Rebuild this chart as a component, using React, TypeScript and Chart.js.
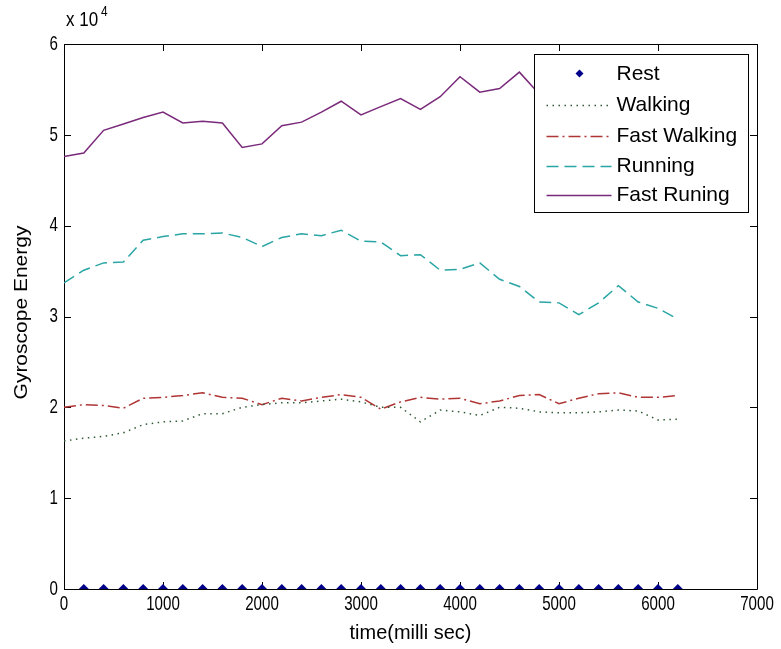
import React, { useEffect, useRef } from "react";
import { Chart, registerables } from "chart.js";

Chart.register(...registerables);

const seriesLabels = ["Rest", "Walking", "Fast Walking", "Running", "Fast Runing"];

const timeMs = [0, 200, 400, 600, 800, 1000, 1200, 1400, 1600, 1800, 2000, 2200, 2400, 2600, 2800, 3000,
  3200, 3400, 3600, 3800, 4000, 4200, 4400, 4600, 4800, 5000, 5200, 5400, 5600, 5800, 6000, 6200];

const restTime = [200, 400, 600, 800, 1000, 1200, 1400, 1600, 1800, 2000, 2200, 2400, 2600, 2800, 3000,
  3200, 3400, 3600, 3800, 4000, 4200, 4400, 4600, 4800, 5000, 5200, 5400, 5600, 5800, 6000, 6200];
const restEnergy = [0, 0, 0, 0, 0, 0, 0, 0, 0, 0, 0, 0, 0, 0, 0, 0, 0, 0, 0, 0, 0, 0, 0, 0, 0, 0, 0, 0, 0, 0, 0];

const walking = [16300, 16600, 16800, 17200, 18100, 18400, 18500, 19300, 19300, 20000, 20300, 20500, 20500, 20700, 20900, 20600,
  20000, 20000, 18400, 19700, 19500, 19100, 20000, 19900, 19500, 19400, 19400, 19500, 19700, 19600, 18600, 18700];

const fastWalking = [20000, 20300, 20200, 19900, 21000, 21100, 21300, 21600, 21100, 21000, 20300, 21000, 20700, 21100, 21400, 21100,
  19800, 20600, 21100, 20900, 21000, 20400, 20700, 21300, 21400, 20400, 21000, 21500, 21600, 21100, 21100, 21300];

const running = [33700, 35100, 35900, 36000, 38400, 38800, 39100, 39100, 39200, 38700, 37700, 38700, 39100, 38900, 39500, 38300,
  38200, 36700, 36800, 35100, 35200, 35900, 34100, 33300, 31600, 31500, 30200, 31500, 33400, 31600, 30900, 29700];

const fastRunning = [47600, 48000, 50500, 51200, 51900, 52500, 51300, 51500, 51300, 48600, 49000, 51000, 51400, 52500, 53700, 52200,
  53100, 54000, 52800, 54200, 56400, 54700, 55100, 56900, 54500, 54900, 55400, 55800, 55500, 56100, 55700, 56300];

const xTicks = [0, 1000, 2000, 3000, 4000, 5000, 6000, 7000];
const yTicks = [0, 10000, 20000, 30000, 40000, 50000, 60000];
const xTickLabels = ["0", "1000", "2000", "3000", "4000", "5000", "6000", "7000"];
const yTickLabels = ["0", "1", "2", "3", "4", "5", "6"];

const pts = (xs: number[], ys: number[]) => xs.map((x, i) => ({ x, y: ys[i] }));

function narrowText(ctx: CanvasRenderingContext2D, text: string, x: number, y: number, align: "left" | "center" | "right", k: number) {
  const w = ctx.measureText(text).width * k;
  let lx = x;
  if (align === "center") lx = x - w / 2;
  if (align === "right") lx = x - w;
  ctx.save();
  ctx.translate(lx, y);
  ctx.scale(k, 1);
  ctx.textAlign = "left";
  ctx.fillText(text, 0, 0);
  ctx.restore();
}

const framePlugin = {
  id: "frame",
  beforeDatasetsDraw(chart: any) {
    const { ctx, chartArea, scales } = chart;
    const { left, right, top, bottom } = chartArea;
    ctx.save();
    ctx.strokeStyle = "#000";
    ctx.lineWidth = 1;
    ctx.beginPath();
    ctx.rect(Math.round(left) + 0.5, Math.round(top) + 0.5, Math.round(right - left), Math.round(bottom - top));
    ctx.stroke();
    const tl = 7;
    ctx.beginPath();
    xTicks.forEach((v) => {
      const px = Math.round(scales.x.getPixelForValue(v)) + 0.5;
      ctx.moveTo(px, bottom);
      ctx.lineTo(px, bottom - tl);
      ctx.moveTo(px, top);
      ctx.lineTo(px, top + tl);
    });
    yTicks.forEach((v) => {
      const py = Math.round(scales.y.getPixelForValue(v)) + 0.5;
      ctx.moveTo(left, py);
      ctx.lineTo(left + tl, py);
      ctx.moveTo(right, py);
      ctx.lineTo(right - tl, py);
    });
    ctx.stroke();
    // tick labels
    ctx.fillStyle = "#000";
    ctx.font = "21px 'Liberation Sans', Arial, sans-serif";
    ctx.textBaseline = "middle";
    xTicks.forEach((v, i) => {
      narrowText(ctx, xTickLabels[i], scales.x.getPixelForValue(v), bottom + 15, "center", 0.72);
    });
    yTicks.forEach((v, i) => {
      narrowText(ctx, yTickLabels[i], left - 6, scales.y.getPixelForValue(v), "right", 0.72);
    });
    ctx.restore();
  },
  afterDatasetsDraw(chart: any) {
    const { ctx, chartArea } = chart;
    const { left, right, top, bottom } = chartArea;
    ctx.save();
    // legend
    const bx = Math.round(right) - 223 + 0.5;
    const by = Math.round(top) + 10 + 0.5;
    const bw = 214;
    const bh = 158;
    ctx.fillStyle = "#fff";
    ctx.fillRect(bx, by, bw, bh);
    ctx.strokeStyle = "#000";
    ctx.lineWidth = 1;
    ctx.setLineDash([]);
    ctx.strokeRect(bx, by, bw, bh);
    const rowY = [19, 50, 81, 111, 140];
    ctx.font = "21px 'Liberation Sans', Arial, sans-serif";
    ctx.textBaseline = "middle";
    ctx.textAlign = "left";
    chart.data.datasets.forEach((ds: any, i: number) => {
      const cy = by + rowY[i];
      if (i === 0) {
        const cx = bx + 45;
        const r = 4;
        ctx.fillStyle = ds.pointBackgroundColor;
        ctx.beginPath();
        ctx.moveTo(cx, cy - r);
        ctx.lineTo(cx + r, cy);
        ctx.lineTo(cx, cy + r);
        ctx.lineTo(cx - r, cy);
        ctx.closePath();
        ctx.fill();
      } else {
        ctx.strokeStyle = ds.borderColor;
        ctx.lineWidth = ds.borderWidth;
        ctx.setLineDash(ds.borderDash || []);
        ctx.beginPath();
        ctx.moveTo(bx + 12, Math.round(cy) + 0.5);
        ctx.lineTo(bx + 77, Math.round(cy) + 0.5);
        ctx.stroke();
        ctx.setLineDash([]);
      }
      ctx.fillStyle = "#000";
      ctx.fillText(ds.label, bx + 82, cy + 1);
    });
    // axis titles
    ctx.fillStyle = "#000";
    ctx.font = "21px 'Liberation Sans', Arial, sans-serif";
    ctx.textBaseline = "middle";
    narrowText(ctx, "time(milli sec)", (left + right) / 2, bottom + 44, "center", 0.95);
    ctx.save();
    ctx.translate(22, (top + bottom) / 2 - 4);
    ctx.rotate(-Math.PI / 2);
    ctx.textAlign = "center";
    ctx.save();
    ctx.scale(1, 0.85);
    ctx.fillText("Gyroscope Energy", 0, 0);
    ctx.restore();
    ctx.restore();
    // exponent
    ctx.font = "20px 'Liberation Sans', Arial, sans-serif";
    narrowText(ctx, "x 10", left + 2, top - 24, "left", 0.85);
    ctx.font = "14px 'Liberation Sans', Arial, sans-serif";
    narrowText(ctx, "4", left + 37, top - 32, "left", 0.85);
    ctx.restore();
  },
};

export default function App() {
  const ref = useRef<HTMLCanvasElement | null>(null);
  useEffect(() => {
    document.body.style.margin = "0";
    const canvas = ref.current;
    if (!canvas) return;
    const chart = new Chart(canvas, {
      type: "scatter",
      data: {
        datasets: [
          {
            label: seriesLabels[0],
            data: pts(restTime, restEnergy),
            showLine: false,
            pointStyle: "rectRot",
            pointRadius: 5,
            pointBackgroundColor: "#00008b",
            pointBorderColor: "#00008b",
            borderColor: "#00008b",
            borderWidth: 0,
          },
          {
            label: seriesLabels[1],
            data: pts(timeMs, walking),
            showLine: true,
            pointRadius: 0,
            borderColor: "#2f5a36",
            borderWidth: 1.5,
            borderDash: [1.5, 4.5],
          },
          {
            label: seriesLabels[2],
            data: pts(timeMs, fastWalking),
            showLine: true,
            pointRadius: 0,
            borderColor: "#b03535",
            borderWidth: 1.5,
            borderDash: [12, 4, 2, 4],
          },
          {
            label: seriesLabels[3],
            data: pts(timeMs, running),
            showLine: true,
            pointRadius: 0,
            borderColor: "#2aa5a5",
            borderWidth: 1.5,
            borderDash: [12, 6],
          },
          {
            label: seriesLabels[4],
            data: pts(timeMs, fastRunning),
            showLine: true,
            pointRadius: 0,
            borderColor: "#7a2a7a",
            borderWidth: 1.5,
          },
        ],
      },
      options: {
        responsive: false,
        animation: false,
        layout: { padding: { left: 0, right: 24, top: 44, bottom: 0 } },
        plugins: { legend: { display: false }, tooltip: { enabled: false } },
        scales: {
          x: {
            type: "linear",
            min: 0,
            max: 7000,
            afterFit: (s: any) => { s.height = 60; },
            afterBuildTicks: (s: any) => { s.ticks = xTicks.map((v) => ({ value: v })); },
            grid: { display: false, drawTicks: false },
            border: { display: false },
            ticks: { display: false },
          },
          y: {
            type: "linear",
            min: 0,
            max: 60000,
            afterFit: (s: any) => { s.width = 64; },
            afterBuildTicks: (s: any) => { s.ticks = yTicks.map((v) => ({ value: v })); },
            grid: { display: false, drawTicks: false },
            border: { display: false },
            ticks: { display: false },
          },
        },
      },
      plugins: [framePlugin],
    });
    return () => chart.destroy();
  }, []);
  return (
    <div style={{ position: "absolute", left: 0, top: 0, width: 781, height: 649, background: "#fff" }}>
      <canvas ref={ref} width={781} height={649} style={{ display: "block" }} />
    </div>
  );
}
